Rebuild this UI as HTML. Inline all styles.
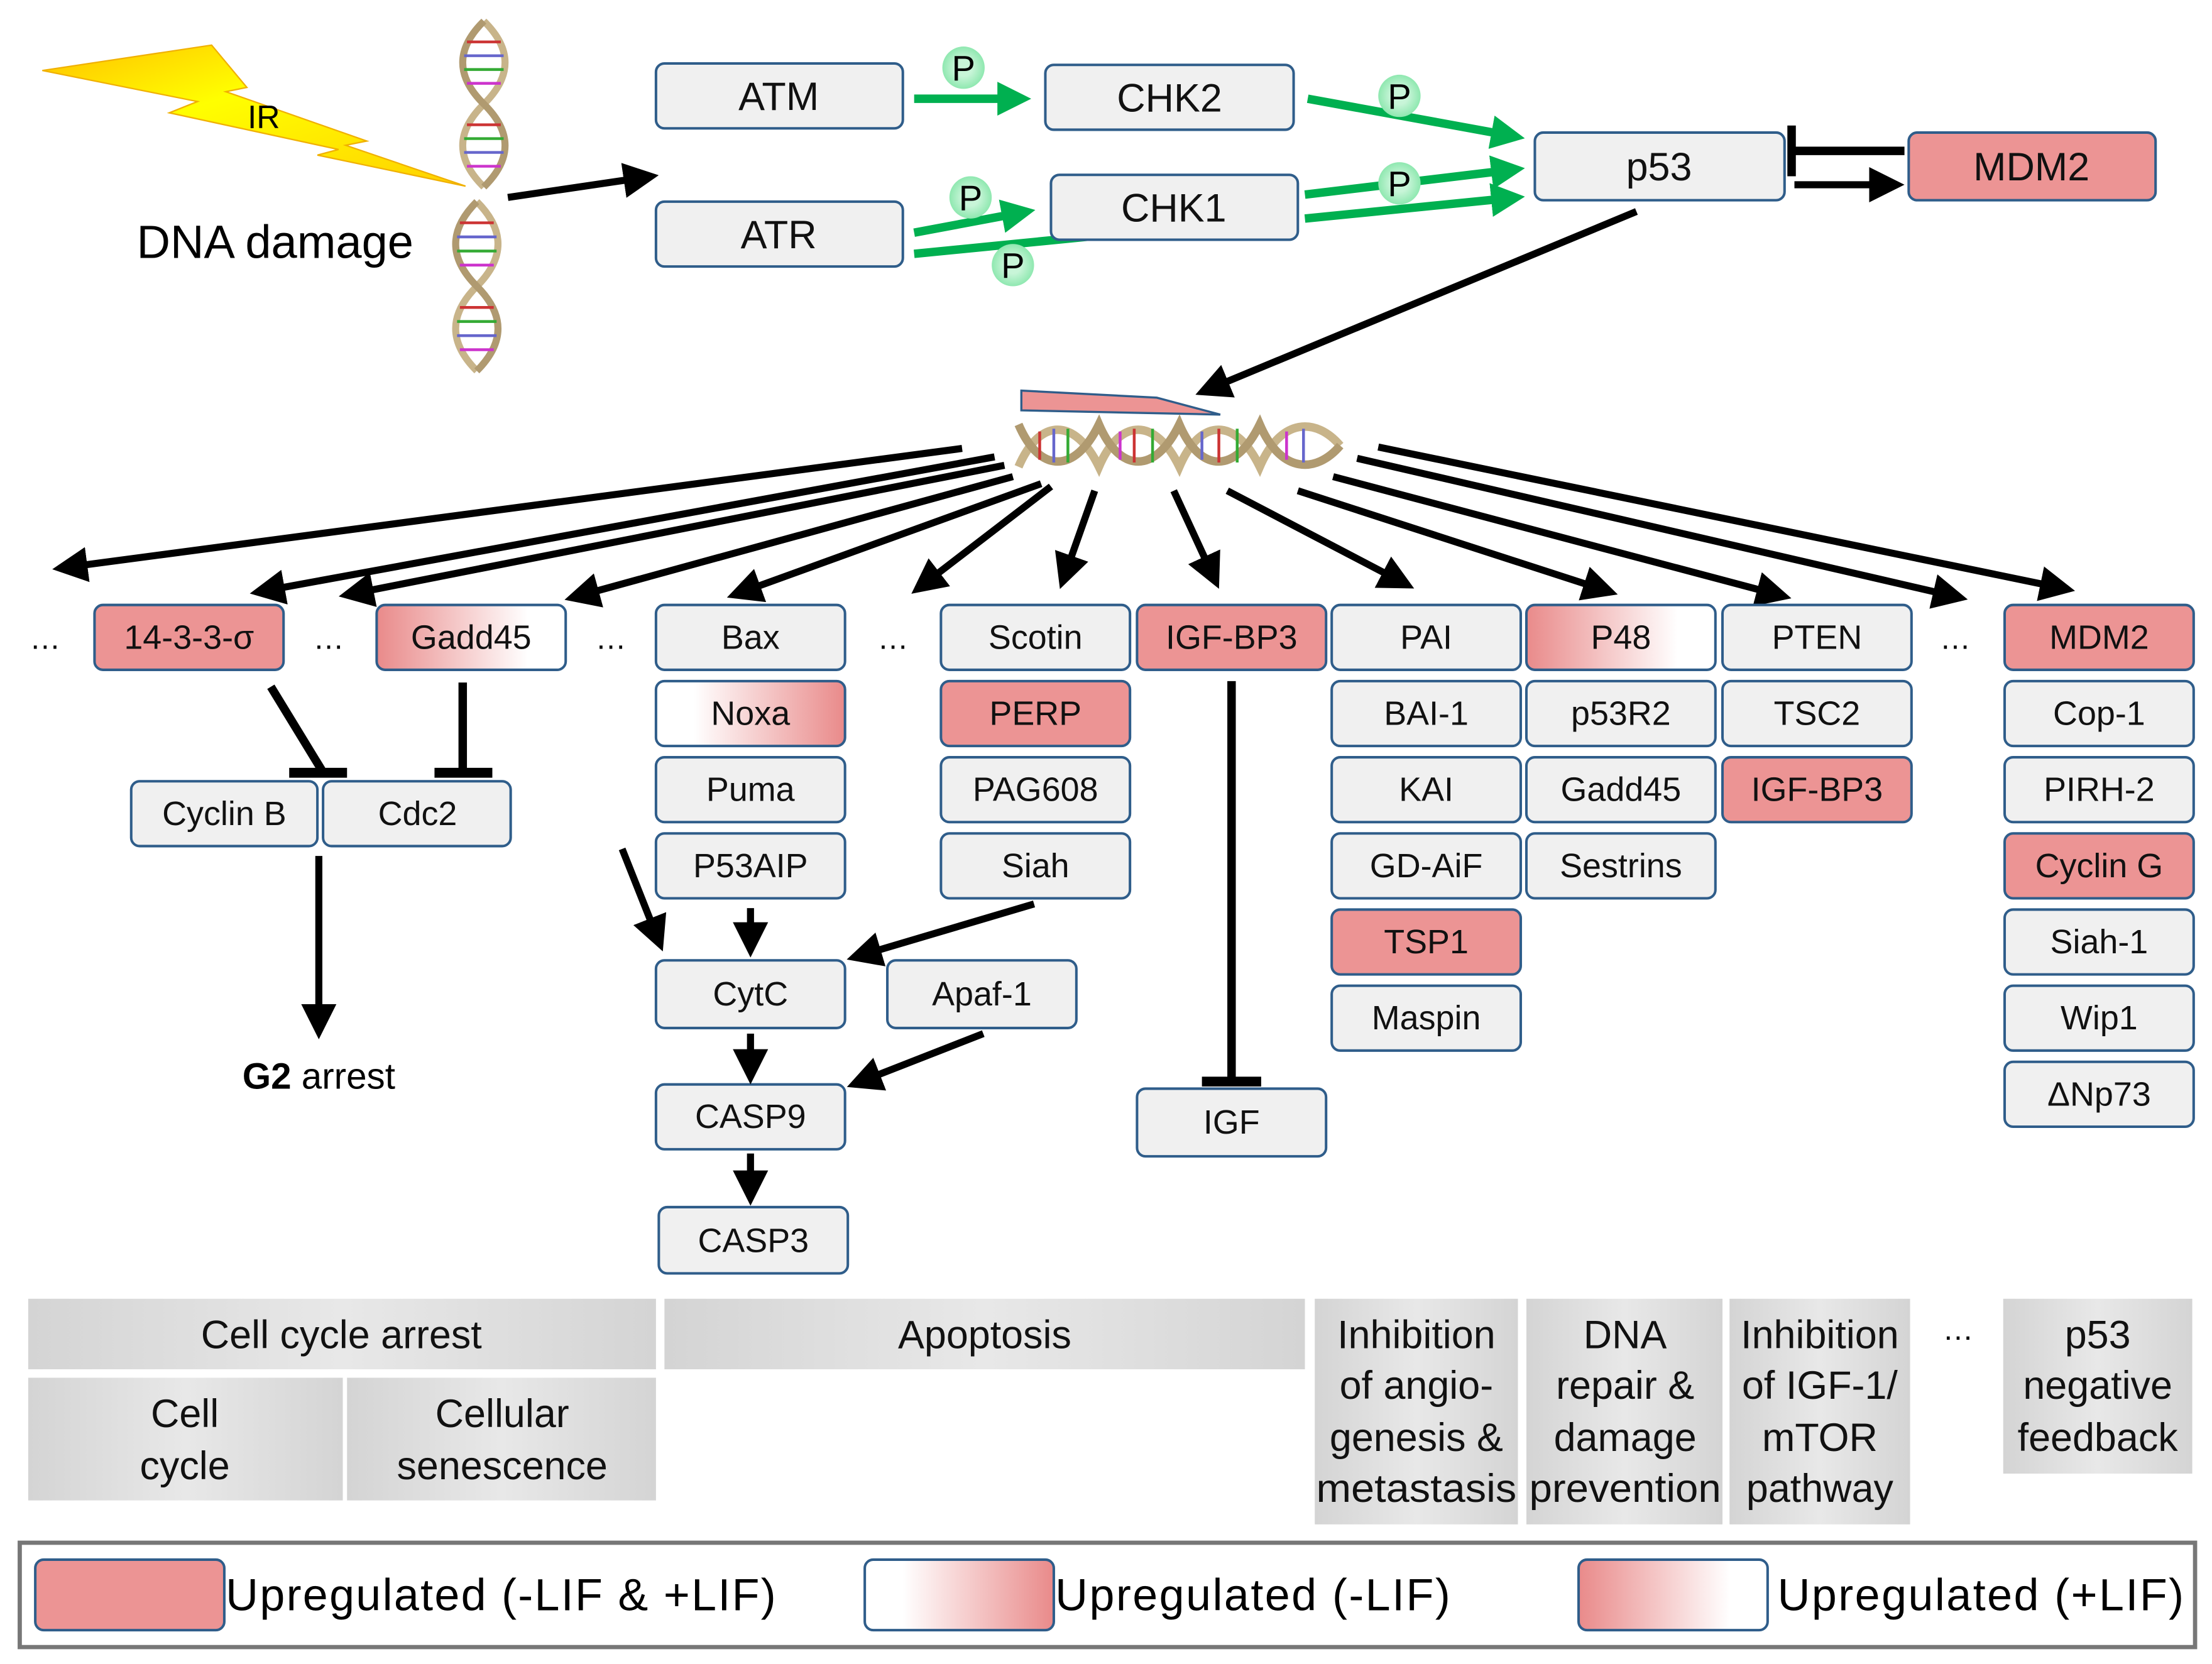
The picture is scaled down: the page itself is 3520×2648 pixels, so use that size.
<!DOCTYPE html>
<html><head><meta charset="utf-8"><style>html,body{margin:0;padding:0;background:#fff}svg{display:block}</style></head><body>
<svg xmlns="http://www.w3.org/2000/svg" width="3520" height="2648" viewBox="0 0 1568 1180" preserveAspectRatio="none" font-family="'Liberation Sans Narrow','Liberation Sans',sans-serif">
<defs>
<marker id="ab" markerWidth="5" markerHeight="5" refX="4" refY="2.5" orient="auto" markerUnits="strokeWidth"><path d="M0,0 L5,2.5 L0,5 z" fill="#000"/></marker>
<marker id="ag" markerWidth="4" markerHeight="4" refX="3" refY="2" orient="auto" markerUnits="strokeWidth"><path d="M0,0 L4,2 L0,4 z" fill="#00b050"/></marker>
<linearGradient id="wp" x1="0" x2="1"><stop offset="0.2" stop-color="#fff"/><stop offset="1" stop-color="#e98a8a"/></linearGradient>
<linearGradient id="pw" x1="0" x2="1"><stop offset="0" stop-color="#e98a8a"/><stop offset="0.8" stop-color="#fff"/></linearGradient>
<linearGradient id="gr" x1="0" x2="1"><stop offset="0" stop-color="#d4d4d4"/><stop offset="0.5" stop-color="#e8e8e8"/><stop offset="1" stop-color="#d4d4d4"/></linearGradient>
<linearGradient id="bolt" x1="0" y1="0" x2="1" y2="1"><stop offset="0" stop-color="#ffc000"/><stop offset="0.4" stop-color="#ffff00"/><stop offset="1" stop-color="#ffd000"/></linearGradient>
<radialGradient id="pc"><stop offset="0.4" stop-color="#c8f5d8"/><stop offset="1" stop-color="#8fe8b0"/></radialGradient>
<g id="helixV">
<path d="M0,0 C20,20 20,40 0,60 C-20,80 -20,100 0,120" fill="none" stroke="#c8b48a" stroke-width="5"/>
<path d="M0,0 C-20,20 -20,40 0,60 C20,80 20,100 0,120" fill="none" stroke="#b09a70" stroke-width="5"/>
<g stroke-width="2"><line x1="-12" y1="15" x2="12" y2="15" stroke="#c33"/><line x1="-14" y1="25" x2="14" y2="25" stroke="#66c"/><line x1="-14" y1="35" x2="14" y2="35" stroke="#3a3"/><line x1="-12" y1="45" x2="12" y2="45" stroke="#c3c"/><line x1="-12" y1="75" x2="12" y2="75" stroke="#c33"/><line x1="-14" y1="85" x2="14" y2="85" stroke="#3a3"/><line x1="-14" y1="95" x2="14" y2="95" stroke="#66c"/><line x1="-12" y1="105" x2="12" y2="105" stroke="#c3c"/></g>
</g>
</defs>
<style>
.b{fill:#f0f0f0;stroke:#2f5d8a;stroke-width:1.8}
.pk{fill:#ec9494;stroke:#2f5d8a;stroke-width:1.8}
.t{font-size:24px;text-anchor:middle;fill:#111}
.tt{font-size:28px;text-anchor:middle;fill:#111}
.ar{stroke:#000;stroke-width:5;fill:none;marker-end:url(#ab)}
.gn{stroke:#00b050;stroke-width:6;fill:none;marker-end:url(#ag)}
.bt{font-size:28px;text-anchor:middle;fill:#111}
</style>

<polygon points="30,50 150,32 175,62 160,65 260,100 245,103 330,132 225,110 240,106 120,80 140,72" fill="url(#bolt)" stroke="#f0b000" stroke-width="1"/>
<text x="187" y="91" font-size="23" text-anchor="middle">IR</text>
<use href="#helixV" transform="translate(343,15) scale(1,0.98)"/>
<use href="#helixV" transform="translate(338,143) scale(1,1)"/>
<text x="195" y="183" font-size="33" text-anchor="middle">DNA damage</text>
<line class="ar" x1="360" y1="140" x2="462" y2="125"/>

<!-- green arrows (under boxes) -->
<line class="gn" x1="648" y1="70" x2="725" y2="70"/>
<line class="gn" x1="927" y1="70" x2="1075" y2="97"/>
<line class="gn" x1="648" y1="165" x2="728" y2="150"/>
<line x1="648" y1="180" x2="800" y2="165" stroke="#00b050" stroke-width="6"/>
<line class="gn" x1="925" y1="138" x2="1075" y2="120"/>
<line class="gn" x1="925" y1="155" x2="1075" y2="140"/>

<rect class="b" x="465" y="45" width="175" height="46" rx="6"/><text class="tt" x="552" y="78">ATM</text>
<rect class="b" x="465" y="143" width="175" height="46" rx="6"/><text class="tt" x="552" y="176">ATR</text>
<rect class="b" x="741" y="46" width="176" height="46" rx="6"/><text class="tt" x="829" y="79">CHK2</text>
<rect class="b" x="745" y="124" width="175" height="46" rx="6"/><text class="tt" x="832" y="157">CHK1</text>
<rect class="b" x="1088" y="94" width="177" height="48" rx="6"/><text class="tt" x="1176" y="128">p53</text>
<rect class="pk" x="1353" y="94" width="175" height="48" rx="6"/><text class="tt" x="1440" y="128">MDM2</text>

<g font-size="25" text-anchor="middle">
<circle cx="683" cy="48" r="15" fill="url(#pc)"/><text x="683" y="57">P</text>
<circle cx="992" cy="68" r="15" fill="url(#pc)"/><text x="992" y="77">P</text>
<circle cx="688" cy="140" r="15" fill="url(#pc)"/><text x="688" y="149">P</text>
<circle cx="992" cy="130" r="15" fill="url(#pc)"/><text x="992" y="139">P</text>
<circle cx="718" cy="188" r="15" fill="url(#pc)"/><text x="718" y="197">P</text>
</g>
<line x1="1350" y1="107" x2="1272" y2="107" stroke="#000" stroke-width="6"/>
<line x1="1270" y1="89" x2="1270" y2="125" stroke="#000" stroke-width="6"/>
<line class="ar" x1="1272" y1="131" x2="1345" y2="131"/>
<line class="ar" x1="1160" y1="150" x2="852" y2="278"/>

<polygon points="724,277 820,282 865,294 724,291" fill="#ec9494" stroke="#2f5d8a" stroke-width="1.5"/>
<g transform="translate(722,296)">
<path d="M0,35 C15,0 40,0 57,35 C72,0 97,0 114,35 C129,0 154,0 171,35 C186,0 211,0 228,20" fill="none" stroke="#c8b48a" stroke-width="6"/>
<path d="M0,5 C15,40 40,40 57,5 C72,40 97,40 114,5 C129,40 154,40 171,5 C186,40 211,40 228,20" fill="none" stroke="#b09a70" stroke-width="6"/>
<g stroke-width="2"><line x1="15" y1="10" x2="15" y2="30" stroke="#c33"/><line x1="25" y1="8" x2="25" y2="32" stroke="#66c"/><line x1="35" y1="8" x2="35" y2="32" stroke="#3a3"/><line x1="72" y1="10" x2="72" y2="30" stroke="#c3c"/><line x1="82" y1="8" x2="82" y2="32" stroke="#c33"/><line x1="95" y1="8" x2="95" y2="32" stroke="#3a3"/><line x1="130" y1="10" x2="130" y2="30" stroke="#66c"/><line x1="142" y1="8" x2="142" y2="32" stroke="#c33"/><line x1="155" y1="8" x2="155" y2="32" stroke="#3a3"/><line x1="190" y1="10" x2="190" y2="30" stroke="#c3c"/><line x1="202" y1="8" x2="202" y2="32" stroke="#66c"/></g>
</g>

<line class="ar" x1="682" y1="318" x2="42" y2="403"/>
<line class="ar" x1="705" y1="324" x2="182" y2="420"/>
<line class="ar" x1="712" y1="330" x2="245" y2="422"/>
<line class="ar" x1="718" y1="338" x2="405" y2="424"/>
<line class="ar" x1="738" y1="343" x2="520" y2="422"/>
<line class="ar" x1="745" y1="345" x2="650" y2="418"/>
<line class="ar" x1="776" y1="348" x2="753" y2="413"/>
<line class="ar" x1="832" y1="348" x2="862" y2="413"/>
<line class="ar" x1="870" y1="348" x2="998" y2="415"/>
<line class="ar" x1="920" y1="348" x2="1142" y2="420"/>
<line class="ar" x1="945" y1="338" x2="1265" y2="423"/>
<line class="ar" x1="962" y1="325" x2="1390" y2="424"/>
<line class="ar" x1="977" y1="317" x2="1466" y2="418"/>

<g font-size="22" text-anchor="middle"><text x="32" y="460">…</text><text x="233" y="460">…</text><text x="433" y="460">…</text><text x="633" y="460">…</text><text x="1386" y="460">…</text><text x="1388" y="950">…</text></g>

<rect class="pk" x="67" y="429" width="134" height="46" rx="6"/><text class="t" x="134" y="460">14-3-3-σ</text>
<rect x="267" y="429" width="134" height="46" rx="6" fill="url(#pw)" stroke="#2f5d8a" stroke-width="1.8"/><text class="t" x="334" y="460">Gadd45</text>

<g>
<rect class="b" x="465" y="429" width="134" height="46" rx="6"/><text class="t" x="532" y="460">Bax</text>
<rect x="465" y="483" width="134" height="46" rx="6" fill="url(#wp)" stroke="#2f5d8a" stroke-width="1.8"/><text class="t" x="532" y="514">Noxa</text>
<rect class="b" x="465" y="537" width="134" height="46" rx="6"/><text class="t" x="532" y="568">Puma</text>
<rect class="b" x="465" y="591" width="134" height="46" rx="6"/><text class="t" x="532" y="622">P53AIP</text>

<rect class="b" x="667" y="429" width="134" height="46" rx="6"/><text class="t" x="734" y="460">Scotin</text>
<rect class="pk" x="667" y="483" width="134" height="46" rx="6"/><text class="t" x="734" y="514">PERP</text>
<rect class="b" x="667" y="537" width="134" height="46" rx="6"/><text class="t" x="734" y="568">PAG608</text>
<rect class="b" x="667" y="591" width="134" height="46" rx="6"/><text class="t" x="734" y="622">Siah</text>

<rect class="pk" x="806" y="429" width="134" height="46" rx="6"/><text class="t" x="873" y="460">IGF-BP3</text>

<rect class="b" x="944" y="429" width="134" height="46" rx="6"/><text class="t" x="1011" y="460">PAI</text>
<rect class="b" x="944" y="483" width="134" height="46" rx="6"/><text class="t" x="1011" y="514">BAI-1</text>
<rect class="b" x="944" y="537" width="134" height="46" rx="6"/><text class="t" x="1011" y="568">KAI</text>
<rect class="b" x="944" y="591" width="134" height="46" rx="6"/><text class="t" x="1011" y="622">GD-AiF</text>
<rect class="pk" x="944" y="645" width="134" height="46" rx="6"/><text class="t" x="1011" y="676">TSP1</text>
<rect class="b" x="944" y="699" width="134" height="46" rx="6"/><text class="t" x="1011" y="730">Maspin</text>

<rect x="1082" y="429" width="134" height="46" rx="6" fill="url(#pw)" stroke="#2f5d8a" stroke-width="1.8"/><text class="t" x="1149" y="460">P48</text>
<rect class="b" x="1082" y="483" width="134" height="46" rx="6"/><text class="t" x="1149" y="514">p53R2</text>
<rect class="b" x="1082" y="537" width="134" height="46" rx="6"/><text class="t" x="1149" y="568">Gadd45</text>
<rect class="b" x="1082" y="591" width="134" height="46" rx="6"/><text class="t" x="1149" y="622">Sestrins</text>

<rect class="b" x="1221" y="429" width="134" height="46" rx="6"/><text class="t" x="1288" y="460">PTEN</text>
<rect class="b" x="1221" y="483" width="134" height="46" rx="6"/><text class="t" x="1288" y="514">TSC2</text>
<rect class="pk" x="1221" y="537" width="134" height="46" rx="6"/><text class="t" x="1288" y="568">IGF-BP3</text>

<rect class="pk" x="1421" y="429" width="134" height="46" rx="6"/><text class="t" x="1488" y="460">MDM2</text>
<rect class="b" x="1421" y="483" width="134" height="46" rx="6"/><text class="t" x="1488" y="514">Cop-1</text>
<rect class="b" x="1421" y="537" width="134" height="46" rx="6"/><text class="t" x="1488" y="568">PIRH-2</text>
<rect class="pk" x="1421" y="591" width="134" height="46" rx="6"/><text class="t" x="1488" y="622">Cyclin G</text>
<rect class="b" x="1421" y="645" width="134" height="46" rx="6"/><text class="t" x="1488" y="676">Siah-1</text>
<rect class="b" x="1421" y="699" width="134" height="46" rx="6"/><text class="t" x="1488" y="730">Wip1</text>
<rect class="b" x="1421" y="753" width="134" height="46" rx="6"/><text class="t" x="1488" y="784">ΔNp73</text>
</g>

<rect class="b" x="93" y="554" width="132" height="46" rx="6"/><text class="t" x="159" y="585">Cyclin B</text>
<rect class="b" x="229" y="554" width="133" height="46" rx="6"/><text class="t" x="296" y="585">Cdc2</text>
<rect class="b" x="465" y="681" width="134" height="48" rx="6"/><text class="t" x="532" y="713">CytC</text>
<rect class="b" x="629" y="681" width="134" height="48" rx="6"/><text class="t" x="696" y="713">Apaf-1</text>
<rect class="b" x="465" y="769" width="134" height="46" rx="6"/><text class="t" x="532" y="800">CASP9</text>
<rect class="b" x="467" y="856" width="134" height="47" rx="6"/><text class="t" x="534" y="888">CASP3</text>
<rect class="b" x="806" y="772" width="134" height="48" rx="6"/><text class="t" x="873" y="804">IGF</text>

<line x1="192" y1="487" x2="228" y2="546" stroke="#000" stroke-width="6"/>
<line x1="205" y1="548" x2="246" y2="548" stroke="#000" stroke-width="7"/>
<line x1="328" y1="484" x2="328" y2="546" stroke="#000" stroke-width="6"/>
<line x1="308" y1="548" x2="349" y2="548" stroke="#000" stroke-width="7"/>
<line class="ar" x1="226" y1="607" x2="226" y2="732"/>
<text x="226" y="772" font-size="26" text-anchor="middle"><tspan font-weight="bold">G2</tspan> arrest</text>
<line class="ar" x1="441" y1="602" x2="468" y2="670"/>
<line class="ar" x1="532" y1="644" x2="532" y2="674"/>
<line class="ar" x1="733" y1="641" x2="605" y2="679"/>
<line class="ar" x1="532" y1="733" x2="532" y2="764"/>
<line class="ar" x1="697" y1="733" x2="605" y2="769"/>
<line class="ar" x1="532" y1="818" x2="532" y2="850"/>
<line x1="873" y1="483" x2="873" y2="765" stroke="#000" stroke-width="6"/>
<line x1="852" y1="767" x2="894" y2="767" stroke="#000" stroke-width="7"/>

<rect x="20" y="921" width="445" height="50" fill="url(#gr)"/><text class="bt" x="242" y="956">Cell cycle arrest</text>
<rect x="20" y="977" width="223" height="87" fill="url(#gr)"/><text class="bt" x="131" y="1012">Cell</text><text class="bt" x="131" y="1049">cycle</text>
<rect x="246" y="977" width="219" height="87" fill="url(#gr)"/><text class="bt" x="356" y="1012">Cellular</text><text class="bt" x="356" y="1049">senescence</text>
<rect x="471" y="921" width="454" height="50" fill="url(#gr)"/><text class="bt" x="698" y="956">Apoptosis</text>
<rect x="932" y="921" width="144" height="160" fill="url(#gr)"/><text class="bt" x="1004" y="956">Inhibition</text><text class="bt" x="1004" y="992">of angio-</text><text class="bt" x="1004" y="1029">genesis &amp;</text><text class="bt" x="1004" y="1065" textLength="142" lengthAdjust="spacingAndGlyphs">metastasis</text>
<rect x="1082" y="921" width="139" height="160" fill="url(#gr)"/><text class="bt" x="1152" y="956">DNA</text><text class="bt" x="1152" y="992">repair &amp;</text><text class="bt" x="1152" y="1029">damage</text><text class="bt" x="1152" y="1065" textLength="136" lengthAdjust="spacingAndGlyphs">prevention</text>
<rect x="1226" y="921" width="128" height="160" fill="url(#gr)"/><text class="bt" x="1290" y="956">Inhibition</text><text class="bt" x="1290" y="992">of IGF-1/</text><text class="bt" x="1290" y="1029">mTOR</text><text class="bt" x="1290" y="1065">pathway</text>
<rect x="1420" y="921" width="134" height="124" fill="url(#gr)"/><text class="bt" x="1487" y="956">p53</text><text class="bt" x="1487" y="992">negative</text><text class="bt" x="1487" y="1029">feedback</text>

<rect x="14" y="1094" width="1542" height="74" fill="#fff" stroke="#777" stroke-width="3"/>
<rect x="25" y="1106" width="134" height="50" rx="6" class="pk"/>
<text x="160" y="1142" font-size="32" textLength="390" lengthAdjust="spacing">Upregulated  (-LIF &amp; +LIF)</text>
<rect x="613" y="1106" width="134" height="50" rx="6" fill="url(#wp)" stroke="#2f5d8a" stroke-width="1.8"/>
<text x="748" y="1142" font-size="32" textLength="280" lengthAdjust="spacing">Upregulated  (-LIF)</text>
<rect x="1119" y="1106" width="134" height="50" rx="6" fill="url(#pw)" stroke="#2f5d8a" stroke-width="1.8"/>
<text x="1260" y="1142" font-size="32" textLength="288" lengthAdjust="spacing">Upregulated  (+LIF)</text>
</svg>
</body></html>
